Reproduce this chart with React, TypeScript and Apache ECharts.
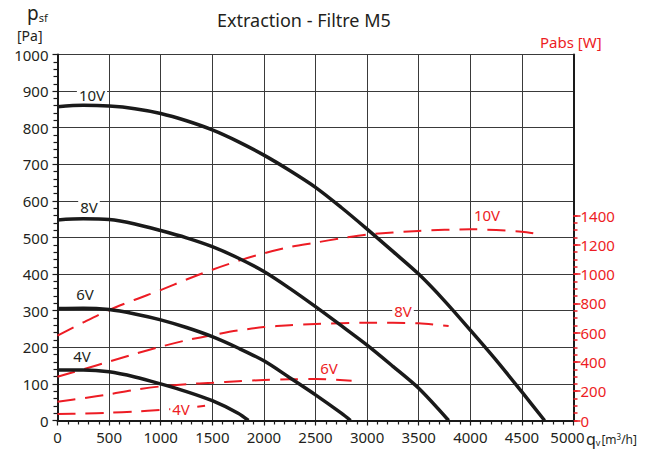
import { useEffect, useRef } from 'react';
import * as echarts from 'echarts';

// Static pressure p_sf [Pa] vs airflow q_v [m3/h]
const psf10V = [[0, 857], [250, 861], [500, 859], [750, 852], [1000, 839], [1250, 819], [1500, 794], [1750, 762], [2000, 725], [2250, 683], [2500, 637], [2750, 582], [3000, 523], [3250, 462], [3500, 400], [3750, 327], [4000, 247], [4250, 165], [4500, 78], [4720, 0]];
const psf8V = [[0, 548], [250, 551], [500, 549], [750, 537], [1000, 519], [1250, 499], [1500, 475], [1750, 444], [2000, 407], [2250, 361], [2500, 311], [2750, 259], [3000, 206], [3250, 148], [3500, 88], [3790, 0]];
const psf6V = [[0, 306], [250, 307], [500, 303], [750, 291], [1000, 275], [1250, 254], [1500, 229], [1750, 198], [2000, 163], [2250, 117], [2500, 70], [2750, 20], [2840, 0]];
const psf4V = [[0, 138], [250, 138], [500, 133], [750, 119], [1000, 100], [1250, 79], [1500, 54], [1750, 20], [1850, 0]];

// Absorbed power Pabs [W] vs airflow
const pabs10V = [[0, 580], [250, 670], [500, 755], [750, 825], [1000, 891], [1250, 963], [1500, 1030], [1750, 1090], [2000, 1142], [2250, 1185], [2500, 1215], [2750, 1245], [3000, 1270], [3500, 1295], [4000, 1306], [4500, 1290], [4700, 1267]];
const pabs8V = [[0, 299], [250, 350], [500, 402], [750, 455], [1000, 504], [1250, 548], [1500, 584], [1750, 615], [2000, 638], [2250, 651], [2500, 659], [3000, 668], [3500, 664], [3790, 645]];
const pabs6V = [[0, 128], [250, 152], [500, 179], [750, 210], [1000, 233], [1250, 248], [1500, 258], [1750, 268], [2000, 277], [2250, 281], [2500, 283], [2850, 272]];
const pabs4V = [[0, 44], [250, 47], [500, 53], [750, 61], [1000, 72], [1250, 86], [1430, 100]];

const rightMajor = [0, 200, 400, 600, 800, 1000, 1200, 1400];
const rightMinor = [0, 50, 100, 150, 200, 250, 300, 350, 400, 450, 500, 550, 600, 650, 700, 750, 800, 850, 900, 950, 1000, 1050, 1100, 1150, 1200, 1250, 1300, 1350, 1400];

const FONT = 'Noto Sans';
const BLACK = '#1a1a1a';
const RED = '#ed1c24';
const TXT = '#231f20';

function label(text: string, coord: number[], color: string) {
  return {
    silent: true,
    symbol: 'circle',
    symbolSize: 1,
    itemStyle: { color: 'rgba(0,0,0,0)' },
    label: {
      show: true,
      position: 'inside',
      formatter: text,
      color,
      fontSize: 15,
      fontFamily: FONT,
      backgroundColor: '#fff',
      padding: [0, 2],
    },
    data: [{ coord }],
  };
}

export default function App() {
  const ref = useRef<HTMLDivElement>(null);
  useEffect(() => {
    const chart = echarts.init(ref.current!, null, { renderer: 'svg' });
    const blackLine = (name: string, data: number[][], coord: number[]) => ({
      name,
      type: 'line',
      yAxisIndex: 0,
      data,
      smooth: 0.3,
      showSymbol: false,
      symbol: 'none',
      z: 4,
      lineStyle: { color: BLACK, width: 3.5 },
      markPoint: label(name, coord, TXT),
    });
    const redLine = (name: string, data: number[][], coord: number[]) => ({
      name: 'P' + name,
      type: 'line',
      yAxisIndex: 1,
      data,
      smooth: 0.3,
      showSymbol: false,
      symbol: 'none',
      z: 3,
      lineStyle: { color: RED, width: 2, type: [18, 10] },
      markPoint: label(name, coord, RED),
    });
    chart.setOption({
      animation: false,
      textStyle: { fontFamily: FONT },
      title: {
        text: 'Extraction - Filtre M5',
        left: 212,
        top: 6,
        textStyle: { fontSize: 18, fontWeight: 'normal', color: TXT, fontFamily: FONT },
      },
      grid: { left: 57.5, right: 76.5, top: 54.5, bottom: 29.5 },
      xAxis: {
        type: 'value',
        min: 0,
        max: 5000,
        interval: 500,
        axisLine: { show: true, lineStyle: { color: BLACK, width: 2 } },
        axisTick: { show: true, length: 5, lineStyle: { color: BLACK, width: 1.2 } },
        minorTick: { show: true, splitNumber: 5, length: 4, lineStyle: { color: BLACK, width: 1.2 } },
        splitLine: { show: true, lineStyle: { color: '#3a3a3a', width: 1 } },
        axisLabel: {
          color: TXT,
          fontSize: 15,
          margin: 9,
          showMaxLabel: true,
          showMinLabel: true,
          hideOverlap: false,
          formatter: (v: number) => (v === 5000 ? '{last|5000}' : String(v)),
          rich: { last: { fontSize: 15, color: TXT, padding: [0, 12, 0, 0] } },
        },
      },
      yAxis: [
        {
          type: 'value',
          position: 'left',
          min: 0,
          max: 1000,
          interval: 100,
          axisLine: { show: true, lineStyle: { color: BLACK, width: 2 } },
          axisTick: { show: true, length: 5, lineStyle: { color: BLACK, width: 1.2 } },
          minorTick: { show: true, splitNumber: 5, length: 4, lineStyle: { color: BLACK, width: 1.2 } },
          splitLine: { show: true, lineStyle: { color: '#3a3a3a', width: 1 } },
          axisLabel: { color: TXT, fontSize: 15, margin: 9, formatter: (v: number) => String(v) },
        },
        {
          type: 'value',
          position: 'right',
          min: 0,
          max: 2500,
          axisLine: { show: true, lineStyle: { color: BLACK, width: 2 } },
          axisTick: { show: true, length: 7, customValues: rightMajor, lineStyle: { color: RED, width: 1.5 } },
          axisLabel: { show: true, customValues: rightMajor, color: RED, fontSize: 15, margin: 7, formatter: (v: number) => String(v) },
          splitLine: { show: false },
        },
        {
          type: 'value',
          position: 'right',
          min: 0,
          max: 2500,
          axisLine: { show: false },
          axisTick: { show: true, length: 4, customValues: rightMinor, lineStyle: { color: RED, width: 1.5 } },
          axisLabel: { show: false },
          splitLine: { show: false },
        },
      ],
      graphic: [
        {
          type: 'text',
          left: 27,
          top: 3,
          style: {
            text: '{p|p}{s|sf}',
            rich: {
              p: { fontSize: 19, fill: TXT, fontFamily: FONT },
              s: { fontSize: 11, fill: TXT, fontFamily: FONT, padding: [10, 0, 0, 0] },
            },
          },
        },
        {
          type: 'text',
          left: 17,
          top: 28,
          style: { text: '[Pa]', fontSize: 14, fill: TXT, fontFamily: FONT },
        },
        {
          type: 'text',
          left: 540,
          top: 34,
          style: { text: 'Pabs [W]', fontSize: 15, fill: RED, fontFamily: FONT },
        },
        {
          type: 'text',
          left: 586,
          top: 431,
          style: {
            text: '{q|q}{s|v}{u|[m}{e|3}{u|/h]}',
            rich: {
              q: { fontSize: 16, lineHeight: 16, fill: TXT, fontFamily: FONT },
              s: { fontSize: 9, lineHeight: 9, fill: TXT, fontFamily: FONT, padding: [6, 1, 0, 0] },
              u: { fontSize: 12, lineHeight: 14, fill: TXT, fontFamily: FONT },
              e: { fontSize: 8, lineHeight: 8, fill: TXT, fontFamily: FONT, padding: [0, 0, 6, 0] },
            },
          },
        },
      ],
      series: [
        blackLine('10V', psf10V, [334, 889]),
        blackLine('8V', psf8V, [305, 583]),
        blackLine('6V', psf6V, [266, 346]),
        blackLine('4V', psf4V, [237, 176]),
        redLine('10V', pabs10V, [4162, 1404]),
        redLine('8V', pabs8V, [3348, 748]),
        redLine('6V', pabs6V, [2631, 359]),
        redLine('4V', pabs4V, [1197, 79]),
      ],
    });
    return () => chart.dispose();
  }, []);
  return <div ref={ref} style={{ position: 'absolute', left: 0, top: 0, width: 650, height: 450 }} />;
}
